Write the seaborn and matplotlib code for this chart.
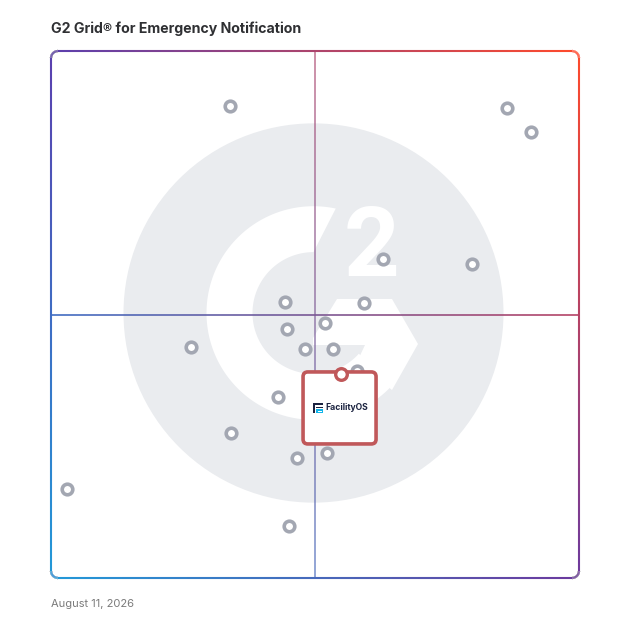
import numpy as np
import pandas as pd
import seaborn as sns
import matplotlib.pyplot as plt
from matplotlib.collections import LineCollection
from matplotlib.patches import Circle, Polygon, FancyBboxPatch, Rectangle
from matplotlib.colors import to_rgb

# vendor scores (0-100 on both axes)
market_presence = [33.9, 86.4, 90.9, 62.9, 79.7, 44.3, 59.3, 51.9, 44.7, 26.5,
                   48.1, 53.4, 58.0, 43.0, 34.1, 52.3, 46.6, 3.0, 45.1]
satisfaction = [89.6, 89.2, 84.6, 60.5, 59.6, 52.4, 52.2, 48.4, 47.2, 43.8,
                43.5, 43.5, 39.3, 34.3, 27.5, 23.7, 22.8, 16.9, 9.9]

highlight_name = "FacilityOS"
highlight_x = 54.9
highlight_y = 38.7

title = "G2 Grid\u00ae for Emergency Notification"
date_label = "August 11, 2026"

sns.set_style("white")
plt.rcParams['font.family'] = ['Inter', 'DejaVu Sans']

W = 628
fig = plt.figure(figsize=(6.28, 6.28), dpi=100)
ax = fig.add_axes([51 / W, 50 / W, 528 / W, 527 / W])
ax.set_xlim(0, 100)
ax.set_ylim(0, 100)
ax.axis("off")

sx, sy = 5.28, 5.27  # px per data unit


def px(x, y):
    return (x - 51) / sx, (578 - y) / sy


# corner colours of the gradient frame
c_tl = np.array(to_rgb("#5b3fae"))
c_tr = np.array(to_rgb("#ff4a2b"))
c_bl = np.array(to_rgb("#2299d8"))
c_br = np.array(to_rgb("#6c3a9e"))


def grad(x, y):
    u, v = x / 100, y / 100
    top = c_tl * (1 - u) + c_tr * u
    bot = c_bl * (1 - u) + c_br * u
    return np.clip(top * v + bot * (1 - v), 0, 1)


def grad_line(pts, lw, alpha=1.0, z=3):
    pts = np.asarray(pts)
    segs = np.stack([pts[:-1], pts[1:]], axis=1)
    mids = (pts[:-1] + pts[1:]) / 2
    cols = [(*grad(mx, my), alpha) for mx, my in mids]
    lc = LineCollection(segs, colors=cols, linewidths=lw, zorder=z,
                        capstyle="butt", clip_on=False)
    ax.add_collection(lc)


# background G2 logo
cx, cy = px(313.5, 313)
ax.add_patch(Circle((cx, cy), 190 / sx, color="#eaecef", lw=0, zorder=0))
r_out, r_in = 107 / sx, 61 / sx
a_out = np.radians(np.linspace(78, 318, 120))
a_in = np.radians(np.linspace(318, 90, 120))
ring = np.vstack([np.c_[cx + r_out * np.cos(a_out), cy + r_out * np.sin(a_out)],
                  np.c_[cx + r_in * np.cos(a_in), cy + r_in * np.sin(a_in)]])
ax.add_patch(Polygon(ring, closed=True, color="white", lw=0, zorder=1))
arrow = [px(313, 345), px(313, 338), px(337, 299), px(392, 299), px(418, 344),
         px(392, 390), px(357, 362), px(365, 345)]
ax.add_patch(Polygon(arrow, closed=True, color="white", lw=0, zorder=1))
tx, ty = px(372, 250)
ax.text(tx, ty, "2", color="white", fontsize=70, fontweight="bold",
        family="Roboto", ha="center", va="center", zorder=1)

# frame with rounded corners
r = 7 / sx
pts = []
for (ox, oy, a0) in [(100 - r, 100 - r, 0), (r, 100 - r, 90), (r, r, 180), (100 - r, r, 270)]:
    t = np.radians(np.linspace(a0, a0 + 90, 15))
    pts.append(np.c_[ox + r * np.cos(t), oy + r * np.sin(t)])
frame = np.vstack(pts)
n = len(frame)
dense = []
for i in range(n):
    p0, p1 = frame[i], frame[(i + 1) % n]
    for s in np.linspace(0, 1, 40, endpoint=False):
        dense.append(p0 + (p1 - p0) * s)
dense.append(frame[0])
grad_line(dense, 1.5)

# quadrant lines
t = np.linspace(0, 100, 300)
grad_line(np.c_[t, np.full_like(t, 50)], 1.4, alpha=0.85)
grad_line(np.c_[np.full_like(t, 50), t], 1.4, alpha=0.6)

# vendors
df = pd.DataFrame({"x": market_presence, "y": satisfaction})
sns.scatterplot(data=df, x="x", y="y", ax=ax, s=58, marker="o",
                facecolor="white", edgecolor="#a3a7b2", linewidth=2.6,
                zorder=4, legend=False)

# highlighted product card
bw, bh = 73 / sx, 72 / sy
card = FancyBboxPatch((highlight_x - bw / 2 - 0.25, highlight_y + 0.4 - bh), bw, bh,
                      boxstyle="round,pad=0,rounding_size=0.9",
                      facecolor="white", edgecolor="#c0585a", lw=2.6, zorder=5)
ax.add_patch(card)
ax.scatter([highlight_x], [highlight_y], s=70, facecolor="white",
           edgecolor="#c0585a", linewidth=2.4, zorder=6)

# tiny logo mark + name
ix, iy = px(313, 413)
iw, ih = 10 / sx, 10 / sy
navy = "#1b2340"
ax.add_patch(Rectangle((ix, iy + ih * 0.8), iw, ih * 0.2, color=navy, lw=0, zorder=6))
ax.add_patch(Rectangle((ix, iy), iw * 0.2, ih, color=navy, lw=0, zorder=6))
ax.add_patch(Rectangle((ix + iw * 0.3, iy + ih * 0.5), iw * 0.7, ih * 0.15, color=navy, lw=0, zorder=6))
ax.add_patch(Rectangle((ix + iw * 0.3, iy), iw * 0.7, ih * 0.42, color="#12b5ea", lw=0, zorder=6))
ax.add_patch(Rectangle((ix + iw * 0.45, iy + ih * 0.12), iw * 0.4, ih * 0.12, color="white", lw=0, zorder=6))
nx, ny = px(325, 408)
ax.text(nx, ny, highlight_name, fontsize=6.2, fontweight="bold", color=navy,
        ha="left", va="center", zorder=6)

fig.text(51 / W, 1 - 29 / W, title, fontsize=10.2, fontweight="bold",
         color="#2f3033", ha="left", va="center")
fig.text(51 / W, 1 - 604 / W, date_label, fontsize=8, color="#7a7a7a",
         ha="left", va="center")

fig.savefig("out.png", dpi=100, facecolor="white")
